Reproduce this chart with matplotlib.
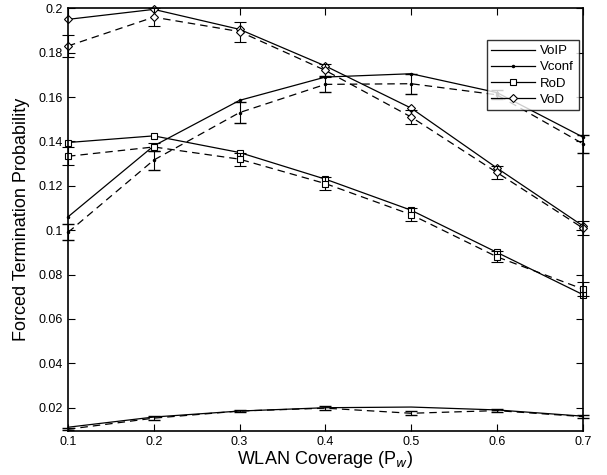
import matplotlib
matplotlib.use("Agg")
import matplotlib.pyplot as plt
from matplotlib.ticker import FormatStrFormatter

plt.rcParams["font.family"] = ["Liberation Sans", "DejaVu Sans"]

coverage = [0.1, 0.2, 0.3, 0.4, 0.5, 0.6, 0.7]

# analytical (solid)
voip_ana = [0.0112, 0.0158, 0.0185, 0.0200, 0.0203, 0.0190, 0.0162]
vconf_ana = [0.106, 0.138, 0.1585, 0.169, 0.1705, 0.162, 0.142]
rod_ana = [0.1395, 0.1425, 0.135, 0.123, 0.109, 0.090, 0.071]
vod_ana = [0.195, 0.1995, 0.1905, 0.174, 0.155, 0.128, 0.102]

# simulation (dashed) with errors
voip_sim = [0.0103, 0.0153, 0.0185, 0.0198, 0.0175, 0.0187, 0.0160]
voip_err = [0.0005, 0.0008, 0.0003, 0.0010, 0.0008, 0.0008, 0.0006]
vconf_sim = [0.099, 0.1316, 0.153, 0.1657, 0.166, 0.161, 0.139]
vconf_err = [0.0036, 0.0043, 0.0048, 0.0036, 0.0045, 0.002, 0.004]
rod_sim = [0.1333, 0.1375, 0.132, 0.121, 0.107, 0.088, 0.0735]
rod_err = [0.004, 0.002, 0.003, 0.003, 0.003, 0.0025, 0.003]
vod_sim = [0.183, 0.196, 0.1895, 0.172, 0.151, 0.126, 0.101]
vod_err = [0.005, 0.004, 0.0045, 0.003, 0.003, 0.003, 0.003]

fig = plt.figure(figsize=(6.07, 4.75), dpi=100)
ax = fig.add_axes([0.112, 0.0926, 0.848, 0.890])

lw = 0.9
mk = dict(markerfacecolor="white", markeredgecolor="black", markeredgewidth=0.8)

ax.plot(coverage, voip_ana, "-", color="black", lw=lw, label="VoIP", clip_on=False)
ax.plot(coverage, vconf_ana, "-", marker=".", markersize=3, color="black", lw=lw,
        label="Vconf", clip_on=False)
ax.plot(coverage, rod_ana, "-", marker="s", markersize=5, color="black", lw=lw,
        label="RoD", clip_on=False, **mk)
ax.plot(coverage, vod_ana, "-", marker="D", markersize=4.5, color="black", lw=lw,
        label="VoD", clip_on=False, **mk)

eb = dict(fmt="--", color="black", lw=lw, elinewidth=0.8, capsize=4, dashes=(6, 4),
          clip_on=False)
ax.errorbar(coverage, voip_sim, yerr=voip_err, **eb)
ax.errorbar(coverage, vconf_sim, yerr=vconf_err, marker=".", markersize=3, **eb)
ax.errorbar(coverage, rod_sim, yerr=rod_err, marker="s", markersize=5, **eb, **mk)
ax.errorbar(coverage, vod_sim, yerr=vod_err, marker="D", markersize=4.5, **eb, **mk)

ax.set_xlim(0.1, 0.7)
ax.set_ylim(0.0095, 0.2)
ax.set_xticks(coverage)
ax.set_yticks([0.02, 0.04, 0.06, 0.08, 0.1, 0.12, 0.14, 0.16, 0.18, 0.2])
ax.xaxis.set_major_formatter(FormatStrFormatter("%g"))
ax.yaxis.set_major_formatter(FormatStrFormatter("%g"))
ax.tick_params(direction="in", top=True, right=True, labelsize=9, length=5, width=0.8)
for s in ax.spines.values():
    s.set_linewidth(1.2)

ax.set_xlabel("WLAN Coverage (P$_w$)", fontsize=13, labelpad=1)
ax.set_ylabel("Forced Termination Probability", fontsize=13, labelpad=6)

leg = ax.legend(loc="upper right", bbox_to_anchor=(0.992, 0.924), fontsize=9.5,
                frameon=True, fancybox=False, handlelength=3.3, borderpad=0.35,
                labelspacing=0.3, handletextpad=0.4, borderaxespad=0)
leg.get_frame().set_edgecolor("black")
leg.get_frame().set_linewidth(1.0)

fig.savefig("out.png", dpi=100)
